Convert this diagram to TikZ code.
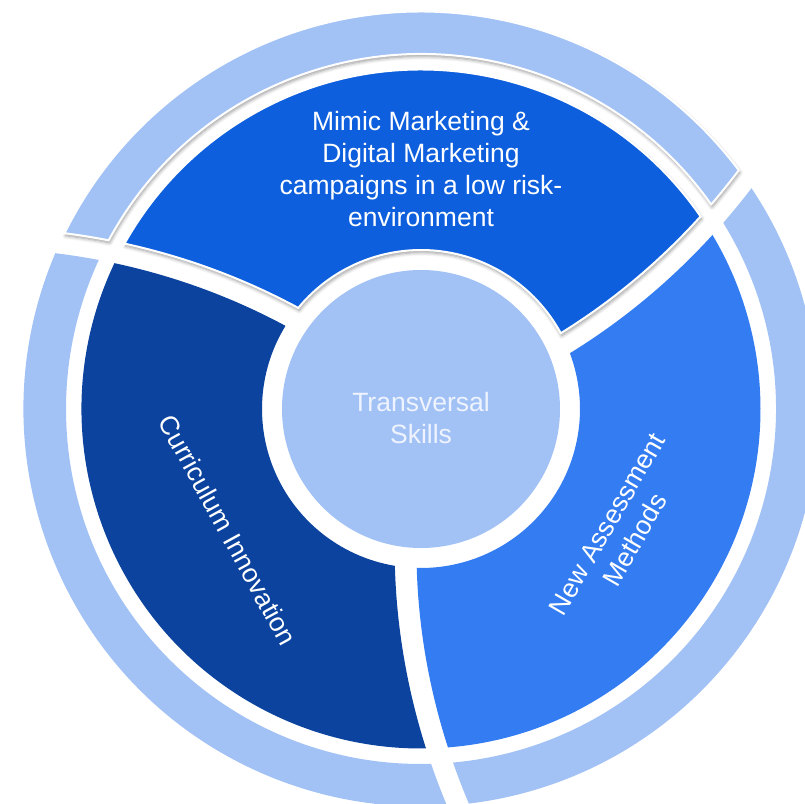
\documentclass[tikz,border=0pt]{standalone}
\usepackage{fontspec}
\setmainfont{Liberation Sans}
\usetikzlibrary{shadows.blur}

\definecolor{ringlight}{HTML}{A2C2F6}
\definecolor{segtop}{HTML}{0D5FDD}
\definecolor{segleft}{HTML}{0B439E}
\definecolor{segright}{HTML}{337CF2}
\definecolor{hubtext}{HTML}{EEF3FD}

% One piece of a ring, cut by two swirling separators.
% #1 = angle of the first separator at r=159, #2 = angle of the second one,
% #3 = inner radius, #4 = outer radius. Separators turn 0.04543 deg per unit
% of radius; each cut edge sits 11 units away from the separator line.
\newcommand\swirlpiece[4]{%
  plot[domain=#3:#4, samples=30] ({#1+0.04543*(\x-159)+630/\x}:\x)
  arc[start angle={#1+0.04543*(#4-159)+630/#4},
      end angle={#2+0.04543*(#4-159)-630/#4}, radius=#4pt]
  -- plot[domain=#4:#3, samples=30] ({#2+0.04543*(\x-159)-630/\x}:\x)
  arc[start angle={#2+0.04543*(#3-159)-630/#3},
      end angle={#1+0.04543*(#3-159)+630/#3}, radius=#3pt]
  -- cycle}

\begin{document}
\begin{tikzpicture}[x=1pt, y=1pt,
  lbl/.style={text=white, font=\fontsize{26.5}{31.8}\selectfont, inner sep=0pt},
  raised/.style={draw=white, line width=2pt,
    blur shadow={shadow xshift=1pt, shadow yshift=-2.5pt,
      shadow blur radius=3.5pt, shadow blur steps=6, shadow opacity=40}}]
\useasboundingbox (-421,-394) rectangle (384,409);

% outer light ring
\fill[ringlight] \swirlpiece{144.5}{264.5}{355}{397.5};
\fill[ringlight] \swirlpiece{264.5}{384.5}{355}{397.5};
\fill[ringlight, raised] \swirlpiece{24.5}{144.5}{355}{397.5};

% three segments of the middle ring
\fill[segleft] \swirlpiece{144.5}{264.5}{159}{339.5};
\fill[segright] \swirlpiece{264.5}{384.5}{159}{339.5};
\fill[segtop, raised] \swirlpiece{24.5}{144.5}{159}{339.5};

% hub
\fill[ringlight] (0,0) circle[radius=139pt];

% labels
\node[lbl, anchor=base] (m1) at (0,278) {Mimic Marketing \&};
\node[lbl, anchor=base] (m2) at (0,246) {Digital Marketing};
\node[lbl, anchor=base] (m3) at (0,214) {campaigns in a low risk-};
\node[lbl, anchor=base] (m4) at (0,182) {environment};

\node[lbl, text=hubtext, anchor=base] (t1) at (0,-2.7) {Transversal};
\node[lbl, text=hubtext, anchor=base] (t2) at (0,-34.3) {Skills};

\node[lbl, rotate=-61.3] (ci) at (-193,-121) {Curriculum Innovation};
\node[lbl, align=center, rotate=60] (na) at (200,-123) {New Assessment\\Methods};
\end{tikzpicture}
\end{document}
